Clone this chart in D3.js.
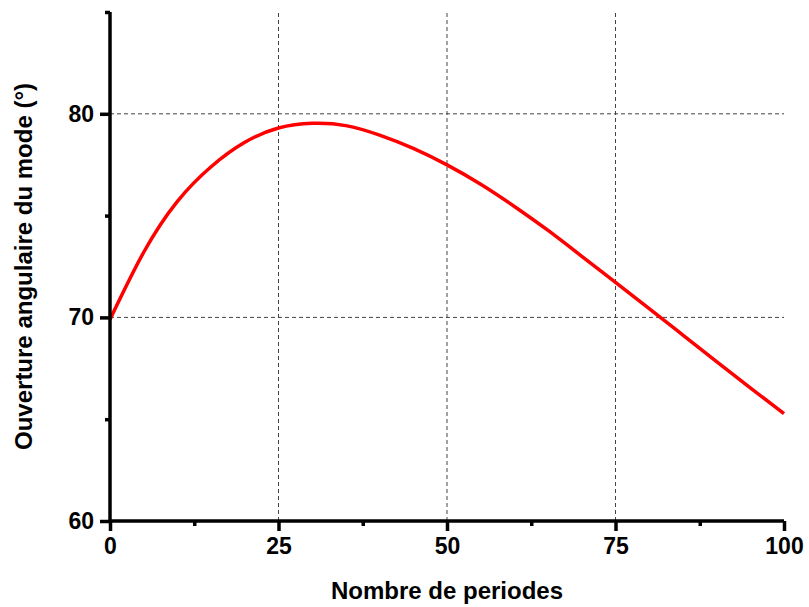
<!DOCTYPE html>
<html><head><meta charset="utf-8">
<script src="https://cdnjs.cloudflare.com/ajax/libs/d3/7.8.5/d3.min.js"></script>
<style>body{margin:0;background:#fff}svg{display:block}text{font-family:"Liberation Sans",Arial,sans-serif;font-weight:bold}</style>
</head><body><svg id="c" width="809" height="607"></svg>
<script>
const periods = [0,5,10,15,20,25,30,35,40,45,50,55,60,65,70,75,80,85,90,95,100];
const ouverture = [69.9,73.2,75.7,77.4,78.6,79.3,79.53,79.42,78.95,78.3,77.49,76.54,75.45,74.27,73.0,71.72,70.43,69.13,67.83,66.54,65.27];
const xMajorTicks = [0,25,50,75,100];
const xMinorTicks = [12.5,37.5,62.5,87.5];
const yMajorTicks = [60,70,80];
const yMinorTicks = [65,75,85];
const xGrid = [25,50,75];
const yGrid = [70,80];
const xTitle = "Nombre de periodes";
const yTitle = "Ouverture angulaire du mode (°)";

const W=809,H=607,m={l:110,r:25,t:12,b:86};
const svg=d3.select("#c");
const x=d3.scaleLinear().domain([0,100]).range([m.l,W-m.r]);
const y=d3.scaleLinear().domain([60,85]).range([H-m.b,m.t]);

// grid
svg.append("g").selectAll("line").data(xGrid).join("line")
 .attr("x1",d=>x(d)).attr("x2",d=>x(d)).attr("y1",y(60)).attr("y2",y(85))
 .attr("stroke","#444").attr("stroke-width",1).attr("stroke-dasharray","4,3");
svg.append("g").selectAll("line").data(yGrid).join("line")
 .attr("x1",x(0)).attr("x2",x(100)).attr("y1",d=>y(d)).attr("y2",d=>y(d))
 .attr("stroke","#444").attr("stroke-width",1).attr("stroke-dasharray","4,3");

// curve
svg.append("path").datum(periods.map((p,i)=>[p,ouverture[i]]))
 .attr("fill","none").attr("stroke","#ff0000").attr("stroke-width",3.5)
 .attr("d",d3.line().x(d=>x(d[0])).y(d=>y(d[1])).curve(d3.curveNatural));

// axes
const gx=svg.append("g").attr("transform",`translate(0,${y(60)})`)
 .call(d3.axisBottom(x).tickValues(xMajorTicks).tickSize(10).tickPadding(7).tickFormat(d3.format("d")));
const gxm=svg.append("g").attr("transform",`translate(0,${y(60)})`)
 .call(d3.axisBottom(x).tickValues(xMinorTicks).tickSize(5).tickFormat(""));
const gy=svg.append("g").attr("transform",`translate(${x(0)},0)`)
 .call(d3.axisLeft(y).tickValues(yMajorTicks).tickSize(10).tickPadding(6).tickFormat(d3.format("d")));
const gym=svg.append("g").attr("transform",`translate(${x(0)},0)`)
 .call(d3.axisLeft(y).tickValues(yMinorTicks).tickSize(5).tickFormat(""));
[gx,gxm,gy,gym].forEach(g=>{
 g.select(".domain").attr("stroke","#000").attr("stroke-width",3.5);
 g.selectAll(".tick line").attr("stroke","#000").attr("stroke-width",3.5);
 g.selectAll(".tick text").attr("fill","#000").attr("font-size",23).attr("font-weight","bold")
  .attr("font-family","'Liberation Sans',Arial,sans-serif");
});
gxm.select(".domain").remove(); gym.select(".domain").remove();
gx.select(".domain").attr("d",`M${x(0)},0H${x(100)}`);
gy.select(".domain").attr("d",`M0,${y(60)}V${y(85)}`);

svg.append("text").attr("x",x(50)).attr("y",599).attr("text-anchor","middle")
 .attr("font-size",24).text(xTitle);
svg.append("text").attr("transform",`translate(32,${(y(60)+y(85))/2}) rotate(-90)`)
 .attr("text-anchor","middle").attr("font-size",24).text(yTitle);
</script></body></html>
